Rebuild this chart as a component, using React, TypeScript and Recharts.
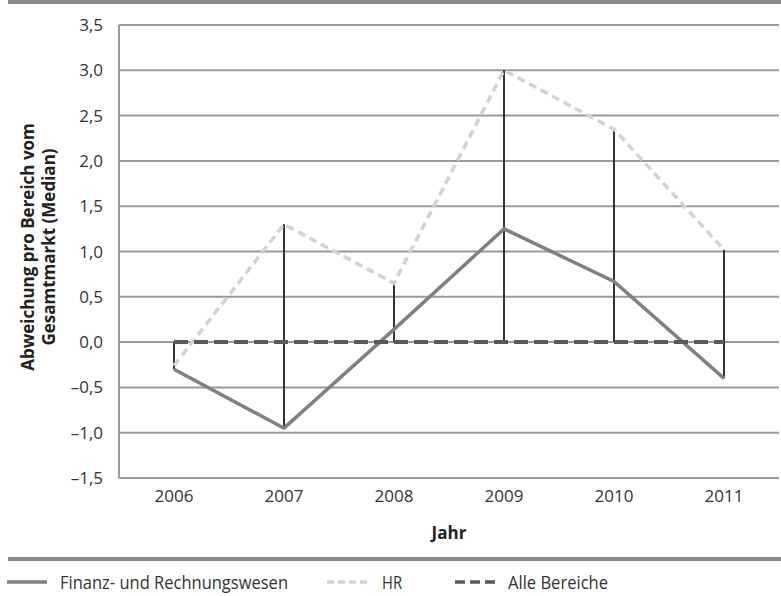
import { ComposedChart, Line, Bar, XAxis, YAxis, CartesianGrid } from 'recharts';

const years = ['2006', '2007', '2008', '2009', '2010', '2011'];
const finanz = [-0.3, -0.95, 0.14, 1.25, 0.67, -0.4];
const hr = [-0.26, 1.3, 0.65, 3.0, 2.35, 1.02];
const alle = [0, 0, 0, 0, 0, 0];
const yTicks = [-1.5, -1.0, -0.5, 0, 0.5, 1.0, 1.5, 2.0, 2.5, 3.0, 3.5];

const data = years.map((year, i) => {
    const vals = [finanz[i], hr[i], alle[i]];
    return {
        year,
        finanz: finanz[i],
        hr: hr[i],
        alle: alle[i],
        range: [Math.min(...vals), Math.max(...vals)],
    };
});

const FONT = "'Open Sans', 'Noto Sans', sans-serif";

const formatTick = (v: number) => {
    const s = Math.abs(v).toFixed(1).replace('.', ',');
    return v < 0 ? `\u2013${s}` : s;
};

const YLabel = () => (
    <text
        transform="translate(34, 247) rotate(-90)"
        textAnchor="middle"
        fontFamily={FONT}
        fontWeight={700}
        fontSize={17}
        fill="#222"
    >
        <tspan x={0} dy={0}>Abweichung pro Bereich vom</tspan>
        <tspan x={0} dy={21}>Gesamtmarkt (Median)</tspan>
    </text>
);

// legend: icon start, text start, text width (condensed like the reference)
const legendItems = [
    { name: 'Finanz- und Rechnungswesen', color: '#808080', dash: '', x: 7, tx: 60, tw: 228 },
    { name: 'HR', color: '#d3d3d3', dash: '7 4', x: 327, tx: 382, tw: 20 },
    { name: 'Alle Bereiche', color: '#595959', dash: '10 5', x: 455, tx: 508, tw: 100 },
];

export default function App() {
    return (
        <div style={{ position: 'absolute', left: 0, top: 0, width: 781, height: 596, background: '#fff', fontFamily: FONT }}>
            <div style={{ position: 'absolute', left: 8, top: 0, width: 773, height: 4, background: '#8a8a8a' }} />
            <div style={{ position: 'absolute', left: 0, top: 0 }}>
                <ComposedChart
                    width={781}
                    height={545}
                    data={data}
                    margin={{ top: 25, right: 2, left: 60, bottom: 0 }}
                >
                    <CartesianGrid vertical={false} stroke="#9a9a9a" strokeWidth={2} />
                    <XAxis
                        dataKey="year"
                        axisLine={false}
                        tickLine={false}
                        tick={{ fontSize: 17, fill: '#333', fontFamily: FONT }}
                        tickMargin={6}
                        height={67}
                        label={{ value: 'Jahr', position: 'insideBottom', offset: 6, fontSize: 17, fontWeight: 700, fill: '#222', fontFamily: FONT }}
                    />
                    <YAxis
                        width={59}
                        domain={[-1.5, 3.5]}
                        ticks={yTicks}
                        tickFormatter={formatTick}
                        axisLine={{ stroke: '#9a9a9a', strokeWidth: 2 }}
                        tickLine={false}
                        tick={{ fontSize: 17, fill: '#333', fontFamily: FONT }}
                        tickMargin={10}
                        interval={0}
                        label={{ content: () => <YLabel /> }}
                    />
                    <Bar dataKey="range" fill="#333" barSize={2} isAnimationActive={false} />
                    <Line
                        dataKey="hr"
                        stroke="#d3d3d3"
                        strokeWidth={3.5}
                        strokeDasharray="8 5"
                        dot={false}
                        isAnimationActive={false}
                    />
                    <Line
                        dataKey="finanz"
                        stroke="#808080"
                        strokeWidth={3.5}
                        dot={false}
                        isAnimationActive={false}
                    />
                    <Line
                        dataKey="alle"
                        stroke="#595959"
                        strokeWidth={4}
                        strokeDasharray="14 6"
                        dot={false}
                        isAnimationActive={false}
                    />
                </ComposedChart>
            </div>
            <div style={{ position: 'absolute', left: 8, top: 557, width: 773, height: 4, background: '#8a8a8a' }} />
            <svg style={{ position: 'absolute', left: 0, top: 561 }} width={781} height={35}>
                {legendItems.map((it) => (
                    <g key={it.name}>
                        <line x1={it.x} y1={21} x2={it.x + 40} y2={21} stroke={it.color} strokeWidth={3.5} strokeDasharray={it.dash} />
                        <text
                            x={it.tx}
                            y={28}
                            fontSize={19}
                            fill="#333"
                            fontFamily={FONT}
                            textLength={it.tw}
                            lengthAdjust="spacingAndGlyphs"
                        >
                            {it.name}
                        </text>
                    </g>
                ))}
            </svg>
        </div>
    );
}
